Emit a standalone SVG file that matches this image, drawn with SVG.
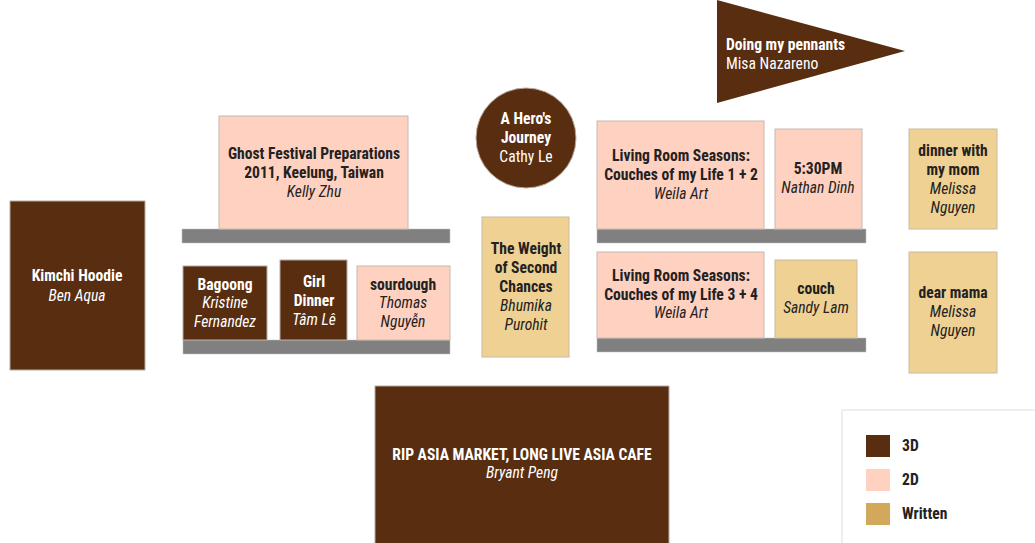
<svg xmlns="http://www.w3.org/2000/svg" width="1035" height="543" viewBox="0 0 1035 543">
<style>
text{font-family:"Roboto Condensed","Liberation Sans Narrow",Roboto,sans-serif;font-size:15.6px;text-anchor:middle;fill:#222}
.b{font-weight:bold}
.i{font-style:italic}
.w{fill:#fff}
.d3{fill:#582D10;stroke:#b8aaa0;stroke-width:1}
.d2{fill:#FFD1C1;stroke:#c8b8b0;stroke-width:1}
.wr{fill:#EFD194;stroke:#c8bba0;stroke-width:1}
.shelf{fill:#808080;stroke:#c0c0c0;stroke-width:0.5}
</style>
<rect width="1035" height="543" fill="#fff"/>
<g id="shelves">
<rect class="shelf" x="182" y="229" width="268" height="14"/>
<rect class="shelf" x="183" y="340" width="267" height="14"/>
<rect class="shelf" x="597" y="229" width="269" height="14"/>
<rect class="shelf" x="597" y="338" width="269" height="14"/>
</g>
<g id="kimchi"><rect class="d3" x="10" y="201" width="135" height="169"/><text class="b w" x="77" y="281">Kimchi Hoodie</text><text class="i w" x="77" y="301">Ben Aqua</text></g>
<g id="ghost"><rect class="d2" x="219" y="116" width="189" height="113"/><text class="b" x="314" y="159">Ghost Festival Preparations</text><text class="b" x="314" y="178">2011, Keelung, Taiwan</text><text class="i" x="314" y="197">Kelly Zhu</text></g>
<g id="bagoong"><rect class="d3" x="183" y="266" width="84" height="74"/><text class="b w" x="225" y="290">Bagoong</text><text class="i w" x="225" y="308">Kristine</text><text class="i w" x="225" y="327">Fernandez</text></g>
<g id="girldinner"><rect class="d3" x="280" y="260" width="67" height="80"/><text class="b w" x="314" y="287">Girl</text><text class="b w" x="314" y="306">Dinner</text><text class="i w" x="314" y="325">Tâm Lê</text></g>
<g id="sourdough"><rect class="d2" x="357" y="266" width="93" height="74"/><text class="b" x="403" y="290">sourdough</text><text class="i" x="403" y="308">Thomas</text><text class="i" x="403" y="327">Nguyễn</text></g>
<g id="hero"><circle class="d3" cx="526" cy="138" r="50"/><text class="b w" x="526" y="124">A Hero's</text><text class="b w" x="526" y="143">Journey</text><text class="w" x="526" y="162">Cathy Le</text></g>
<g id="weight"><rect class="wr" x="482" y="217" width="87" height="140"/><text class="b" x="526" y="254">The Weight</text><text class="b" x="526" y="273">of Second</text><text class="b" x="526" y="292">Chances</text><text class="i" x="526" y="311">Bhumika</text><text class="i" x="526" y="330">Purohit</text></g>
<g id="living12"><rect class="d2" x="597" y="121" width="167" height="108"/><text class="b" x="681" y="161">Living Room Seasons:</text><text class="b" x="681" y="180">Couches of my Life 1 + 2</text><text class="i" x="681" y="199">Weila Art</text></g>
<g id="530pm"><rect class="d2" x="775" y="129" width="87" height="100"/><text class="b" x="818" y="174">5:30PM</text><text class="i" x="818" y="193">Nathan Dinh</text></g>
<g id="living34"><rect class="d2" x="597" y="252" width="167" height="86"/><text class="b" x="681" y="281">Living Room Seasons:</text><text class="b" x="681" y="300">Couches of my Life 3 + 4</text><text class="i" x="681" y="318">Weila Art</text></g>
<g id="couch"><rect class="wr" x="775" y="260" width="82" height="78"/><text class="b" x="816" y="294">couch</text><text class="i" x="816" y="313">Sandy Lam</text></g>
<g id="dinnermom"><rect class="wr" x="909" y="129" width="88" height="100"/><text class="b" x="953" y="156">dinner with</text><text class="b" x="953" y="175">my mom</text><text class="i" x="953" y="194">Melissa</text><text class="i" x="953" y="213">Nguyen</text></g>
<g id="dearmama"><rect class="wr" x="909" y="252" width="88" height="121"/><text class="b" x="953" y="298">dear mama</text><text class="i" x="953" y="317">Melissa</text><text class="i" x="953" y="336">Nguyen</text></g>
<g id="pennant"><polygon points="717,0 905,51 717,103" fill="#582D10"/><text class="b w" x="726" y="50" style="text-anchor:start">Doing my pennants</text><text class="w" x="726" y="69" style="text-anchor:start">Misa Nazareno</text></g>
<g id="rip"><rect class="d3" x="375" y="386" width="294" height="160"/><text class="b w" x="522" y="460">RIP ASIA MARKET, LONG LIVE ASIA CAFE</text><text class="i w" x="522" y="478">Bryant Peng</text></g>
<g id="legend"><rect x="842" y="410" width="200" height="140" fill="#fff" stroke="#ddd"/>
<rect x="866" y="435" width="24" height="22" fill="#582D10"/><text class="b" x="902" y="451" style="text-anchor:start">3D</text>
<rect x="866" y="469" width="24" height="22" fill="#FFD1C1"/><text class="b" x="902" y="485" style="text-anchor:start">2D</text>
<rect x="866" y="503" width="24" height="22" fill="#D2A95A"/><text class="b" x="902" y="519" style="text-anchor:start">Written</text>
</g>
</svg>
